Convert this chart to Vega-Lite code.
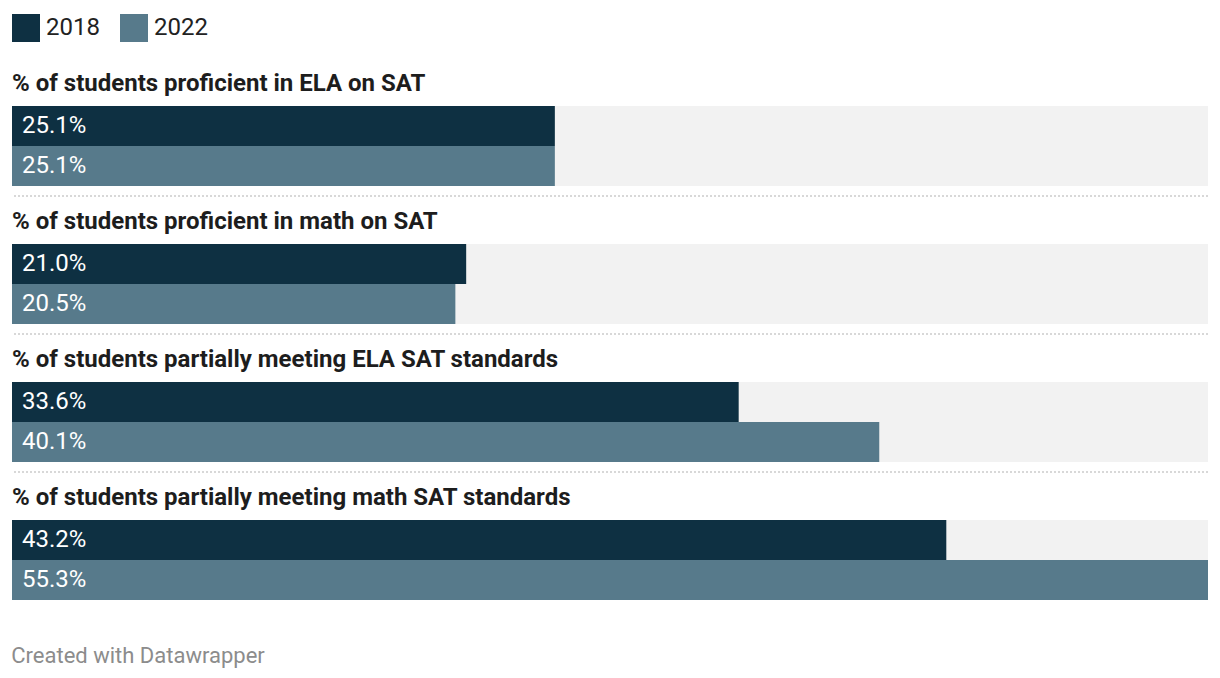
{
  "$schema": "https://vega.github.io/schema/vega-lite/v6.json",
  "background": "white",
  "padding": {"left": 11, "top": 14, "right": 12, "bottom": 12},
  "config": {
    "view": {"stroke": null},
    "font": "Roboto",
    "header": {"titleFontSize": 0},
    "legend": {"labelFont": "Roboto"}
  },
  "title": {
    "text": "Created with Datawrapper",
    "orient": "bottom",
    "anchor": "start",
    "fontSize": 22,
    "fontWeight": "normal",
    "color": "#8c8c8c",
    "font": "Roboto",
    "offset": 46
  },
  "data": {
    "values": [
      {"group": "% of students proficient in ELA on SAT", "year": "2018", "value": 25.1, "label": "25.1%"},
      {"group": "% of students proficient in ELA on SAT", "year": "2022", "value": 25.1, "label": "25.1%"},
      {"group": "% of students proficient in math on SAT", "year": "2018", "value": 21.0, "label": "21.0%"},
      {"group": "% of students proficient in math on SAT", "year": "2022", "value": 20.5, "label": "20.5%"},
      {"group": "% of students partially meeting ELA SAT standards", "year": "2018", "value": 33.6, "label": "33.6%"},
      {"group": "% of students partially meeting ELA SAT standards", "year": "2022", "value": 40.1, "label": "40.1%"},
      {"group": "% of students partially meeting math SAT standards", "year": "2018", "value": 43.2, "label": "43.2%"},
      {"group": "% of students partially meeting math SAT standards", "year": "2022", "value": 55.3, "label": "55.3%"}
    ]
  },
  "facet": {
    "field": "group",
    "type": "nominal",
    "sort": [
      "% of students proficient in ELA on SAT",
      "% of students proficient in math on SAT",
      "% of students partially meeting ELA SAT standards",
      "% of students partially meeting math SAT standards"
    ],
    "title": null,
    "header": {
      "labelAnchor": "start",
      "labelAlign": "left",
      "labelFontSize": 24,
      "labelFontWeight": "bold",
      "labelColor": "#1d1d1d",
      "labelFont": "Roboto",
      "labelPadding": 10
    }
  },
  "columns": 1,
  "spacing": {"row": 13},
  "resolve": {"scale": {"y": "independent"}},
  "spec": {
    "width": 1196,
    "height": 80,
    "encoding": {
      "y": {
        "field": "year",
        "type": "nominal",
        "axis": null,
        "scale": {"paddingInner": 0, "paddingOuter": 0}
      }
    },
    "layer": [
      {
        "mark": {"type": "bar", "color": "#f2f2f2"},
        "encoding": {
          "x": {"datum": 55.3, "type": "quantitative", "scale": {"domain": [0, 55.3], "nice": false}, "axis": null}
        }
      },
      {
        "mark": {"type": "bar"},
        "encoding": {
          "x": {"field": "value", "type": "quantitative", "scale": {"domain": [0, 55.3], "nice": false}, "axis": null},
          "color": {
            "field": "year",
            "type": "nominal",
            "scale": {"domain": ["2018", "2022"], "range": ["#0e3042", "#577a8b"]},
            "legend": {
              "title": null,
              "orient": "top",
              "direction": "horizontal",
              "symbolType": "square",
              "symbolSize": 784,
              "symbolStrokeWidth": 0,
              "symbolOpacity": 1,
              "labelFontSize": 24,
              "labelColor": "#222222",
              "columnPadding": 20,
              "labelOffset": 6,
              "offset": 30,
              "padding": 0
            }
          }
        }
      },
      {
        "mark": {"type": "text", "align": "left", "baseline": "middle", "dx": 10, "fontSize": 24, "color": "white", "font": "Roboto"},
        "encoding": {
          "x": {"datum": 0, "type": "quantitative"},
          "text": {"field": "label"}
        }
      },
      {
        "transform": [
          {"filter": "datum.year == '2022' && datum.group != '% of students partially meeting math SAT standards'"}
        ],
        "mark": {"type": "rule", "color": "#cccccc", "strokeDash": [2, 2], "strokeWidth": 1.5, "yOffset": 10},
        "encoding": {
          "y": {"field": "year", "type": "nominal", "bandPosition": 1}
        }
      }
    ]
  }
}
